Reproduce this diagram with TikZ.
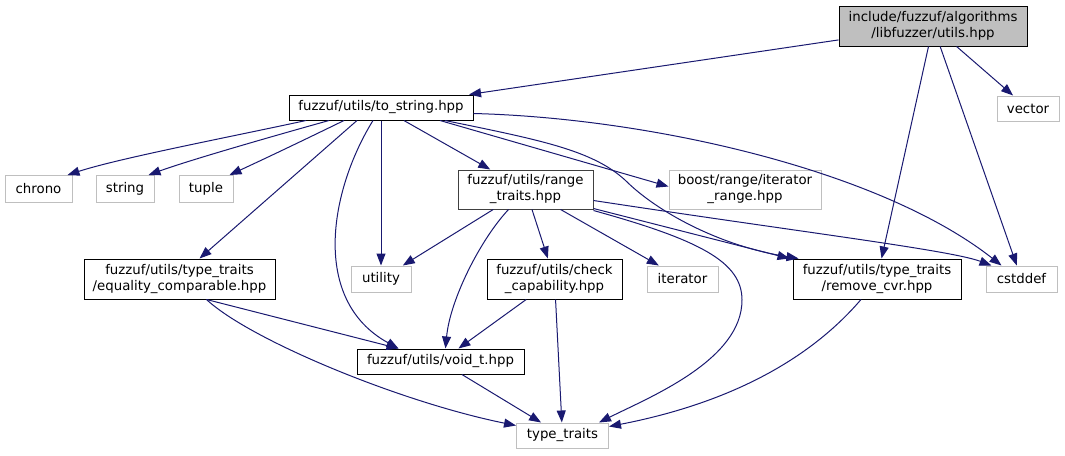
\documentclass[tikz,border=0pt]{standalone}
\usepackage{fontspec}
\setmainfont{DejaVu Sans}
\usetikzlibrary{arrows.meta}
\definecolor{edgeblue}{HTML}{191970}
\definecolor{boxgray}{HTML}{BFBFBF}
\begin{document}
\begin{tikzpicture}[x=1pt,y=-1pt,
  font=\fontsize{13.33}{16}\selectfont,
  box/.style={draw, line width=1pt, inner sep=0pt, align=center, minimum height=25pt},
  blk/.style={box, draw=black},
  rootbox/.style={box, draw=black, fill=boxgray},
  ext/.style={box, draw=boxgray},
  edge/.style={draw=edgeblue, line width=1pt, -{Triangle[length=12pt,width=9pt]}}]
\useasboundingbox (0,0) rectangle (1065,455);
% nodes
\node[rootbox, minimum width=188pt, minimum height=40pt] (root) at (933,26) {include/fuzzuf/algorithms\\/libfuzzer/utils.hpp};
\node[ext, minimum width=62pt] (vector) at (1028,108.5) {vector};
\node[blk, minimum width=184pt] (tostr) at (381,107.5) {fuzzuf/utils/to\_string.hpp};
\node[ext, minimum width=67pt, minimum height=27pt] (chrono) at (38.5,189) {chrono};
\node[ext, minimum width=58pt, minimum height=27pt] (string) at (125,189) {string};
\node[ext, minimum width=54pt, minimum height=27pt] (tuple) at (206,189) {tuple};
\node[blk, draw=black!75, minimum width=135pt, minimum height=39pt] (rt) at (525.5,189.5) {fuzzuf/utils/range\\\_traits.hpp};
\node[ext, minimum width=152pt, minimum height=39pt] (boost) at (745,189.5) {boost/range/iterator\\\_range.hpp};
\node[blk, minimum width=191pt, minimum height=40pt] (eq) at (179.5,279) {fuzzuf/utils/type\_traits\\/equality\_comparable.hpp};
\node[ext, minimum width=60pt, minimum height=26pt] (utility) at (381,279) {utility};
\node[blk, minimum width=135pt, minimum height=40pt] (check) at (554.5,279) {fuzzuf/utils/check\\\_capability.hpp};
\node[ext, minimum width=71pt, minimum height=26pt] (iterator) at (682.5,279) {iterator};
\node[blk, minimum width=168pt, minimum height=40pt] (rcvr) at (877,279) {fuzzuf/utils/type\_traits\\/remove\_cvr.hpp};
\node[ext, minimum width=71pt, minimum height=26pt] (cstddef) at (1021.5,279) {cstddef};
\node[blk, minimum width=167pt] (voidt) at (440.5,361.5) {fuzzuf/utils/void\_t.hpp};
\node[ext, minimum width=92pt] (tt) at (562.5,435.5) {type\_traits};
% edges from root
\draw[edge] (root) -- (tostr);
\draw[edge] (root) -- (vector);
\draw[edge] (root) -- (rcvr);
\draw[edge] (root) -- (cstddef);
% edges from to_string
\draw[edge] ([xshift=-75pt]tostr.south) .. controls (230,137) and (120,158) .. ([xshift=-5pt]chrono.north east);
\draw[edge] ([xshift=-52pt]tostr.south) .. controls (270,137) and (190,160) .. ([xshift=-6pt]string.north east);
\draw[edge] ([xshift=-37pt]tostr.south) .. controls (300,142) and (262,160) .. ([xshift=-4pt]tuple.north east);
\draw[edge] ([xshift=-24pt]tostr.south) -- ([xshift=20pt]eq.north);
\draw[edge] ([xshift=-8pt]tostr.south) .. controls (330,190) and (310,300) .. ([xshift=-42pt]voidt.north);
\draw[edge] (tostr) -- (utility);
\draw[edge] (tostr) -- (rt);
\draw[edge] ([xshift=59pt]tostr.south) -- ([yshift=-17pt]boost.north west);
\draw[edge] ([xshift=64pt]tostr.south) .. controls (540,140) and (592,150) .. (625,180) .. controls (657,212) and (720,246) .. ([xshift=6pt]rcvr.north west);
\draw[edge] ([yshift=-6pt]tostr.east) .. controls (650,118) and (880,170) .. ([xshift=-20pt]cstddef.north);
% edges from range_traits
\draw[edge] (rt) -- (utility);
\draw[edge] ([xshift=-17pt]rt.south) .. controls (480,240) and (450,300) .. ([xshift=5pt]voidt.north);
\draw[edge] (rt) -- (check);
\draw[edge] (rt) -- (iterator);
\draw[edge] ([yshift=-1pt]rt.south east) .. controls (700,240) and (742,262) .. (742,300) .. controls (742,360) and (650,397) .. ([xshift=-10pt]tt.north east);
\draw[edge] ([yshift=1pt]rt.south east) -- ([xshift=-3pt]rcvr.north west);
\draw[edge] ([yshift=9pt]rt.south east) .. controls (800,232) and (950,250) .. ([xshift=-30pt]cstddef.north);
% other edges
\draw[edge] (check) -- (voidt);
\draw[edge] (check) -- (tt);
\draw[edge] (voidt) -- (tt);
\draw[edge] ([xshift=27pt]eq.south) -- ([xshift=-42pt]voidt.north);
\draw[edge] ([xshift=27pt]eq.south) .. controls (250,340) and (400,402) .. ([yshift=-3pt]tt.north west);
\draw[edge] ([xshift=-16pt]rcvr.south) .. controls (805,365) and (720,405) .. ([yshift=-4pt]tt.north east);
\end{tikzpicture}
\end{document}
